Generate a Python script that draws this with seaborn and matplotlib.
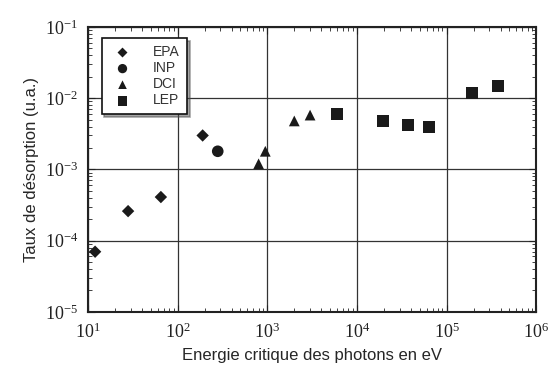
import seaborn as sns
import matplotlib.pyplot as plt
import pandas as pd

# values
epa_x = [12, 28, 65, 190]
epa_y = [7e-5, 2.6e-4, 4.1e-4, 3.0e-3]
inp_x = [280]
inp_y = [1.8e-3]
dci_x = [800, 950, 2000, 3000]
dci_y = [1.2e-3, 1.8e-3, 4.8e-3, 5.8e-3]
lep_x = [6000, 19500, 37000, 63000, 190000, 370000]
lep_y = [6.0e-3, 4.8e-3, 4.2e-3, 3.9e-3, 1.2e-2, 1.5e-2]

df = pd.concat([
    pd.DataFrame({'E': epa_x, 'taux': epa_y, 'src': 'EPA'}),
    pd.DataFrame({'E': inp_x, 'taux': inp_y, 'src': 'INP'}),
    pd.DataFrame({'E': dci_x, 'taux': dci_y, 'src': 'DCI'}),
    pd.DataFrame({'E': lep_x, 'taux': lep_y, 'src': 'LEP'}),
])

sns.set_style('ticks')
fig = plt.figure(figsize=(5.5, 3.7), dpi=100)
ax = fig.add_axes([0.16, 0.157, 0.815, 0.77])

markers = {'EPA': 'D', 'INP': 'o', 'DCI': '^', 'LEP': 's'}
sizes = {'EPA': 40, 'INP': 70, 'DCI': 60, 'LEP': 75}
for name, grp in df.groupby('src', sort=False):
    sns.scatterplot(data=grp, x='E', y='taux', marker=markers[name], s=sizes[name],
                    color='#1a1a1a', edgecolor='none', label=name, ax=ax)

ax.set_xscale('log')
ax.set_yscale('log')
ax.set_xlim(10, 1e6)
ax.set_ylim(1e-5, 1e-1)
ax.grid(True, which='major', color='#333333', lw=0.9)
ax.tick_params(which='both', direction='in', top=True, right=True, colors='#222222')
ax.tick_params(which='major', length=5, labelsize=13)
ax.tick_params(which='minor', length=3)
ax.tick_params(axis='x', pad=8)
ax.tick_params(axis='y', pad=7)
for lab in ax.get_xticklabels() + ax.get_yticklabels():
    lab.set_family('Liberation Serif')
for sp in ax.spines.values():
    sp.set_linewidth(1.5)
    sp.set_color('#222222')

ax.set_xlabel('Energie critique des photons en eV', fontsize=12, family='Liberation Sans')
ax.set_ylabel('Taux de désorption (u.a.)', fontsize=12, family='Liberation Sans')

leg = ax.legend(loc='upper left', bbox_to_anchor=(0.015, 0.985), frameon=True,
                fancybox=False, shadow=True, fontsize=10, handletextpad=1.2,
                labelspacing=0.15, borderpad=0.5, markerscale=0.8)
leg.get_frame().set_edgecolor('#111111')
leg.get_frame().set_linewidth(1.2)
for t in leg.get_texts():
    t.set_family('Liberation Sans')
    t.set_color('#333333')

fig.savefig('out.png')
